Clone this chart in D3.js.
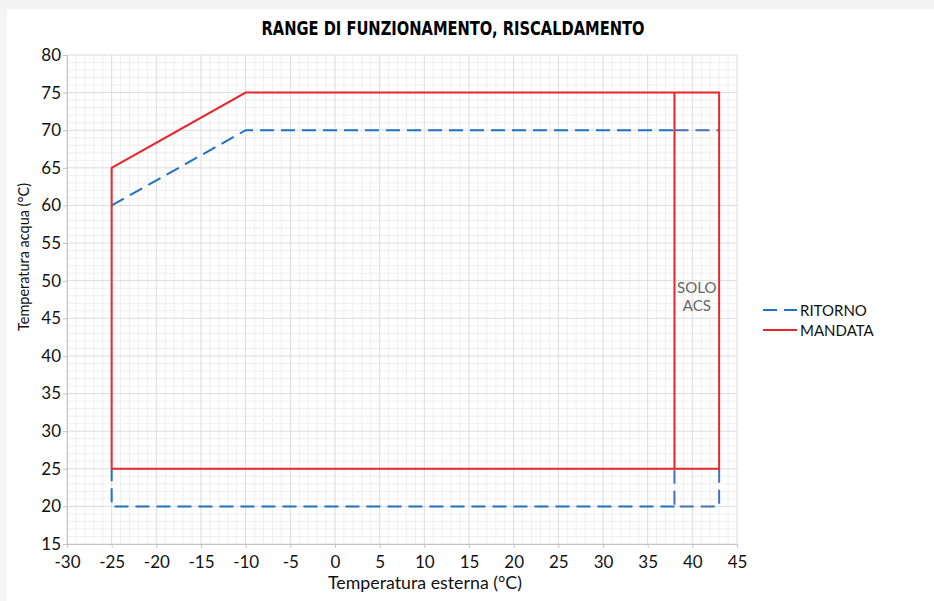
<!DOCTYPE html>
<html><head><meta charset="utf-8">
<script src="https://cdn.jsdelivr.net/npm/d3@7"></script>
<style>
html,body{margin:0;padding:0;background:#f4f4f4;}
svg{display:block;}
text{font-family:Lato,"Open Sans",sans-serif;}
</style></head>
<body>
<svg id="chart" width="934" height="601"></svg>
<script>
// ---- data ----
const xTicks = [-30,-25,-20,-15,-10,-5,0,5,10,15,20,25,30,35,40,45];
const yTicks = [15,20,25,30,35,40,45,50,55,60,65,70,75,80];
// MANDATA (red, solid)
const mandataT = [-25,-25,-10,43,43,-25];
const mandataV = [25,65,75,75,25,25];
const mandataAcsT = [38,38];
const mandataAcsV = [25,75];
// RITORNO (blue, dashed) - visible parts (rest lies under MANDATA)
const ritornoLowT = [38,-25,-25];
const ritornoLowV = [20,20,25];
const ritornoUpT = [-25,-10,38];
const ritornoUpV = [60,70,70];
const ritornoAcsTopT = [38,43];
const ritornoAcsTopV = [70,70];
const ritornoAcsLowT = [43,43,38,38];
const ritornoAcsLowV = [25,20,20,25];
const legendLabels = ["RITORNO","MANDATA"];
const title = "RANGE DI FUNZIONAMENTO, RISCALDAMENTO";
const xLabel = "Temperatura esterna (°C)";
const yLabel = "Temperatura acqua (°C)";
const acsLabel = ["SOLO","ACS"];

// ---- layout ----
const svg = d3.select("#chart");
svg.append("rect").attr("x",7).attr("y",9).attr("width",927).attr("height",592).attr("fill","#fff");
const L=67, R=737, T=55, B=544;
const x = d3.scaleLinear().domain([-30,45]).range([L,R]);
const y = d3.scaleLinear().domain([15,80]).range([B,T]);
const RED="#e8262b", BLUE="#1f72c2", BLUE2="#4a70b8";

// minor grid
const g = svg.append("g");
g.selectAll(".mx").data(d3.range(-30,46,1).filter(v=>v%5!==0)).join("line")
  .attr("x1",d=>x(d)).attr("x2",d=>x(d)).attr("y1",T).attr("y2",B)
  .attr("stroke","#efefef").attr("stroke-width",1);
g.selectAll(".my").data(d3.range(15,81,1).filter(v=>v%5!==0)).join("line")
  .attr("y1",d=>y(d)).attr("y2",d=>y(d)).attr("x1",L).attr("x2",R)
  .attr("stroke","#efefef").attr("stroke-width",1);
// major grid
g.selectAll(".Mx").data(xTicks).join("line")
  .attr("x1",d=>x(d)).attr("x2",d=>x(d)).attr("y1",T).attr("y2",B)
  .attr("stroke","#dcdcdc").attr("stroke-width",1);
g.selectAll(".My").data(yTicks).join("line")
  .attr("y1",d=>y(d)).attr("y2",d=>y(d)).attr("x1",L).attr("x2",R)
  .attr("stroke","#dcdcdc").attr("stroke-width",1);

// axes
const xAxis = svg.append("g").attr("transform",`translate(0,${B})`)
  .call(d3.axisBottom(x).tickValues(xTicks).tickSize(4).tickPadding(4).tickFormat(d=>d));
const yAxis = svg.append("g").attr("transform",`translate(${L},0)`)
  .call(d3.axisLeft(y).tickValues(yTicks).tickSize(4).tickPadding(2).tickFormat(d=>d));
[xAxis,yAxis].forEach(a=>{
  a.select(".domain").attr("stroke","#c4c4c4");
  a.selectAll(".tick line").attr("stroke","#c4c4c4");
  a.selectAll("text").attr("fill","#111").style("font-size","17px").style("font-family","Lato,sans-serif");
});
xAxis.selectAll("text").attr("dy","0.95em");

// lines
const line = d3.line().x(d=>x(d[0])).y(d=>y(d[1]));
const zip=(a,b)=>a.map((v,i)=>[v,b[i]]);
const dashed=(tt,vv,c)=>svg.append("path").attr("d",line(zip(tt,vv))).attr("fill","none")
  .attr("stroke",c).attr("stroke-width",2).attr("stroke-dasharray","14,7");
dashed(ritornoLowT,ritornoLowV,BLUE);
dashed(ritornoUpT,ritornoUpV,BLUE);
dashed(ritornoAcsTopT,ritornoAcsTopV,BLUE2);
dashed(ritornoAcsLowT,ritornoAcsLowV,BLUE2);
svg.append("path").attr("d",line(zip(mandataT,mandataV))).attr("fill","none")
  .attr("stroke",RED).attr("stroke-width",2);
svg.append("path").attr("d",line(zip(mandataAcsT,mandataAcsV))).attr("fill","none")
  .attr("stroke",RED).attr("stroke-width",2);

// SOLO ACS
svg.append("g").selectAll("text").data(acsLabel).join("text")
  .attr("x",x(40.5)).attr("y",(d,i)=>y(48.3)+i*18).attr("text-anchor","middle")
  .attr("fill","#666").style("font-size","15px").text(d=>d);

// title
svg.append("text").attr("x",453).attr("y",35).attr("text-anchor","middle")
  .style("font-family","'Liberation Sans Narrow','DejaVu Sans Condensed','Liberation Sans',sans-serif")
  .style("font-weight","bold").style("font-size","20px").attr("fill","#000")
  .attr("textLength",383).attr("lengthAdjust","spacingAndGlyphs").text(title);

// axis labels
svg.append("text").attr("x",425).attr("y",589).attr("text-anchor","middle")
  .style("font-size","17px").attr("fill","#111")
  .attr("textLength",194).attr("lengthAdjust","spacingAndGlyphs").text(xLabel);
svg.append("text").attr("transform","translate(29,257) rotate(-90)").attr("text-anchor","middle")
  .style("font-size","15.5px").attr("fill","#111")
  .attr("textLength",148).attr("lengthAdjust","spacingAndGlyphs").text(yLabel);

// legend
const lg = svg.append("g");
const legStyles=[{c:BLUE,d:"14,7"},{c:RED,d:null}];
legendLabels.forEach((lab,i)=>{
  const yy = 310 + i*20;
  lg.append("line").attr("x1",763).attr("x2",797).attr("y1",yy).attr("y2",yy)
    .attr("stroke",legStyles[i].c).attr("stroke-width",2).attr("stroke-dasharray",legStyles[i].d);
  lg.append("text").attr("x",800).attr("y",yy+5.5).style("font-size","15px").attr("fill","#111").text(lab);
});
</script>
</body></html>
